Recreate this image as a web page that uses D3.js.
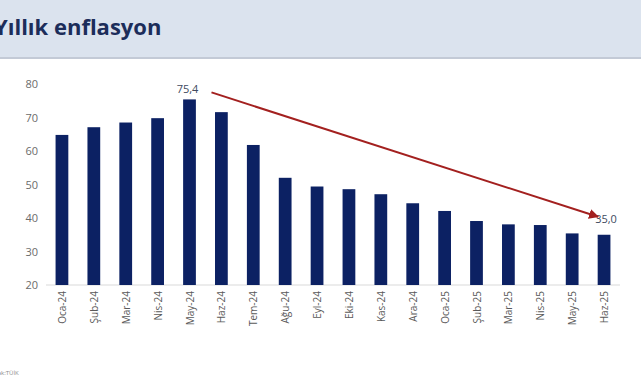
<!DOCTYPE html>
<html><head><meta charset="utf-8">
<script src="https://cdn.jsdelivr.net/npm/d3@7"></script>
<style>
html,body{margin:0;padding:0;background:#fff;}
svg{display:block;}
</style></head>
<body>
<script>
const categories = ["Oca-24","Şub-24","Mar-24","Nis-24","May-24","Haz-24","Tem-24","Ağu-24","Eyl-24","Eki-24","Kas-24","Ara-24","Oca-25","Şub-25","Mar-25","Nis-25","May-25","Haz-25"];
const values = [64.8,67.1,68.5,69.8,75.4,71.6,61.8,52.0,49.4,48.6,47.1,44.4,42.1,39.1,38.1,37.9,35.4,35.0];
const yTicks = [20,30,40,50,60,70,80];
const labeled = [{i:4, text:"75,4"},{i:17, text:"35,0"}];
const title = "Yıllık enflasyon";
const source = "Kaynak:TÜİK";

const W = 641, H = 380;
const svg = d3.select("body").append("svg").attr("width", W).attr("height", H);

// header band
svg.append("rect").attr("x",0).attr("y",0).attr("width",W).attr("height",58).attr("fill","#dbe3ee");
svg.append("rect").attr("x",0).attr("y",57).attr("width",W).attr("height",2).attr("fill","#c3cad6");
svg.append("text").attr("x",-6).attr("y",35).text(title)
  .attr("font-family","Open Sans, sans-serif").attr("font-weight","bold").attr("font-size",22)
  .attr("fill","#1c2d5a");

const x = d3.scaleBand().domain(categories).range([46, 620]).paddingInner(0.6).paddingOuter(0.3);
const y = d3.scaleLinear().domain([20, 80]).range([285, 84]);

// axis line
svg.append("line").attr("x1",46).attr("x2",620).attr("y1",y(20)).attr("y2",y(20)).attr("stroke","#d9d9d9");

// y tick labels
svg.selectAll(".yt").data(yTicks).enter().append("text")
  .attr("x",38).attr("y",d=>y(d)+4).attr("text-anchor","end")
  .attr("font-family","Open Sans, sans-serif").attr("font-size",11).attr("fill","#6b6b6b")
  .text(d=>d);

// bars
svg.selectAll(".bar").data(values).enter().append("rect")
  .attr("x",(d,i)=>x(categories[i])).attr("width",x.bandwidth())
  .attr("y",d=>y(d)).attr("height",d=>y(20)-y(d)).attr("fill","#0c2163");

// x labels
svg.selectAll(".xl").data(categories).enter().append("text")
  .attr("transform",d=>`translate(${x(d)+x.bandwidth()/2+4},291) rotate(-90)`)
  .attr("text-anchor","end")
  .attr("font-family","Open Sans, sans-serif").attr("font-size",10).attr("fill","#595959")
  .text(d=>d);

// value labels
svg.selectAll(".vl").data(labeled).enter().append("text")
  .attr("x",d=>x(categories[d.i])+x.bandwidth()/2 + (d.i===4? -2: 2))
  .attr("y",(d)=> d.i===4 ? y(values[d.i])-6 : y(values[d.i])-12)
  .attr("text-anchor","middle")
  .attr("font-family","Open Sans, sans-serif").attr("font-size",11).attr("fill","#404a60")
  .text(d=>d.text);

// arrow
const defs = svg.append("defs");
defs.append("marker").attr("id","ah").attr("viewBox","0 0 10 10").attr("refX",9).attr("refY",5)
  .attr("markerWidth",5).attr("markerHeight",5).attr("orient","auto")
  .append("path").attr("d","M0,0 L10,5 L0,10 z").attr("fill","#a3201f");
const x0 = x(categories[4])+x.bandwidth()/2, x1 = x(categories[17])+x.bandwidth()/2;
svg.append("line").attr("x1",x0+22).attr("y1",y(values[4])-7)
  .attr("x2",x1-6).attr("y2",y(values[17])-18)
  .attr("stroke","#a3201f").attr("stroke-width",2).attr("marker-end","url(#ah)");

// source
svg.append("text").attr("x",-16).attr("y",375).text(source)
  .attr("font-family","Open Sans, sans-serif").attr("font-size",6).attr("fill","#8a8a8a");
</script>
</body></html>
